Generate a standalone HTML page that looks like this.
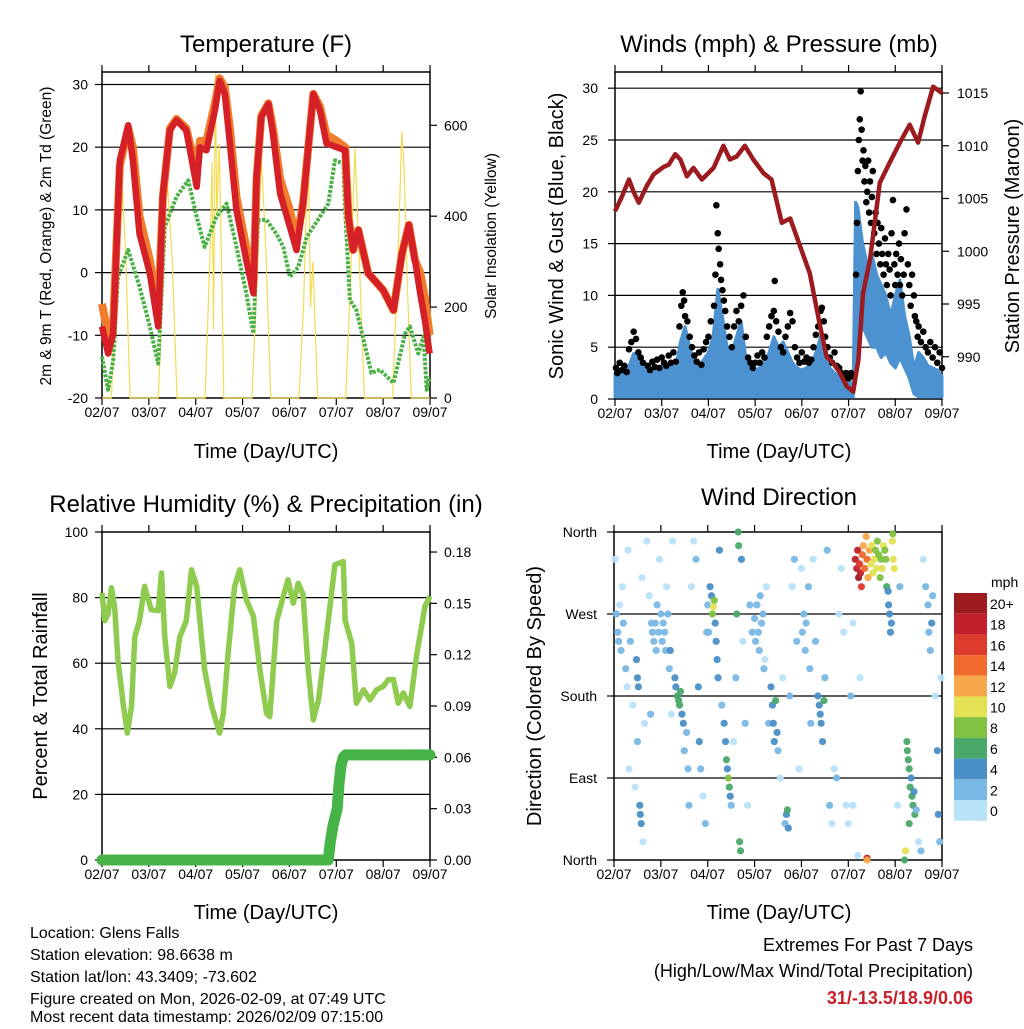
<!DOCTYPE html>
<html><head><meta charset="utf-8">
<style>
html,body{margin:0;padding:0;background:#fff;}
svg text{font-family:"Liberation Sans",sans-serif;fill:#000;}
</style></head>
<body>
<svg id="c" width="1024" height="1024" viewBox="0 0 1024 1024" xmlns="http://www.w3.org/2000/svg">
<rect width="1024" height="1024" fill="#fff"/>
<g id="g"></g>
<text x="266" y="52" font-size="24" text-anchor="middle">Temperature (F)</text>
<text x="779" y="52" font-size="24" text-anchor="middle">Winds (mph) &amp; Pressure (mb)</text>
<text x="266" y="512" font-size="24" text-anchor="middle">Relative Humidity (%) &amp; Precipitation (in)</text>
<text x="779" y="505" font-size="24" text-anchor="middle">Wind Direction</text>
<text x="266" y="458" font-size="20" text-anchor="middle">Time (Day/UTC)</text>
<text x="779" y="458" font-size="20" text-anchor="middle">Time (Day/UTC)</text>
<text x="266" y="919" font-size="20" text-anchor="middle">Time (Day/UTC)</text>
<text x="779" y="919" font-size="20" text-anchor="middle">Time (Day/UTC)</text>
<text transform="translate(51,236) rotate(-90)" font-size="15.5" text-anchor="middle">2m &amp; 9m T (Red, Orange) &amp; 2m Td (Green)</text>
<text transform="translate(496,236) rotate(-90)" font-size="15.5" text-anchor="middle">Solar Insolation (Yellow)</text>
<text transform="translate(563,236) rotate(-90)" font-size="20" text-anchor="middle">Sonic Wind &amp; Gust (Blue, Black)</text>
<text transform="translate(1019,236) rotate(-90)" font-size="20" text-anchor="middle">Station Pressure (Maroon)</text>
<text transform="translate(47,696) rotate(-90)" font-size="20" text-anchor="middle">Percent &amp; Total Rainfall</text>
<text transform="translate(541,696) rotate(-90)" font-size="20" text-anchor="middle">Direction (Colored By Speed)</text>
<g font-size="16">
<text x="30" y="938">Location: Glens Falls</text>
<text x="30" y="960">Station elevation: 98.6638 m</text>
<text x="30" y="982">Station lat/lon: 43.3409; -73.602</text>
<text x="30" y="1004">Figure created on Mon, 2026-02-09, at 07:49 UTC</text>
<text x="30" y="1026" dy="-4">Most recent data timestamp: 2026/02/09 07:15:00</text>
</g>
<g font-size="18" text-anchor="end">
<text x="973" y="951">Extremes For Past 7 Days</text>
<text x="973" y="977">(High/Low/Max Wind/Total Precipitation)</text>
<text x="973" y="1004" font-weight="bold" style="fill:#c8202a">31/-13.5/18.9/0.06</text>
</g>
</svg>
<script>
// ---- data ----
const dayLabels=["02/07","03/07","04/07","05/07","06/07","07/07","08/07","09/07"];
const tempTicks=[30,20,10,0,-10,-20];
const solarTicks=[600,400,200,0];
const windTicks=[30,25,20,15,10,5,0];
const presTicks=[1015,1010,1005,1000,995,990];
const rhTicks=[100,80,60,40,20,0];
const precipTicks=[0.18,0.15,0.12,0.09,0.06,0.03,0.00];
const dirTicks=[0,90,180,270,360];
const dirNames=["North","East","South","West","North"];
const speedLabels=["20+","18","16","14","12","10","8","6","4","2","0"];
const speedColors=["#9b1b1f","#c0202a","#dc3a2a","#ef6a2c","#f7a84a","#e4e254","#80c142","#4aa86a","#4a8fc6","#7ab8e5","#b8e2f8"];

const tRed=[0,0.13,0.24,0.38,0.56,0.66,0.8,1.02,1.2,1.3,1.45,1.59,1.8,2.02,2.09,2.23,2.41,2.51,2.62,2.73,2.87,3.08,3.23,3.3,3.4,3.55,3.65,3.8,4.01,4.15,4.29,4.51,4.65,4.79,5.01,5.19,5.26,5.36,5.47,5.68,6.0,6.22,6.4,6.55,6.68,6.79,6.89,6.99];
const red=[-8.6,-12.9,-9.7,17.9,23.5,17.9,6.2,-0.1,-8.6,12.6,22.7,24.3,22.7,13.7,20,19.5,25.9,30.6,28.5,20.6,9.9,2,-3.3,15.3,24.8,26.9,22.1,12.6,7.3,3.6,11,28.5,25.9,20.6,20,19.5,8.8,3.6,6.8,-0.1,-2.8,-6,3,7.6,2,-3.3,-7.6,-12.9];
const orange=[-5,-10,-8,17,23,20,9,2,-6,12,23,24.5,23,16,21,21,27,31,29.5,23,12,4,-2,15,25,27,23,15,10,5,11,28.5,26.5,22,21,20,8.8,3.6,6.8,-0.1,-2.8,-6,3,7.6,2,0,-4,-10];
const tDew=[0,0.13,0.24,0.34,0.56,0.8,1.02,1.2,1.34,1.59,1.84,2.02,2.19,2.44,2.66,2.87,3.08,3.23,3.33,3.51,3.72,3.87,4.01,4.19,4.37,4.65,4.83,4.97,5.15,5.19,5.29,5.43,5.65,5.75,5.93,6.22,6.47,6.57,6.75,6.86,6.93,6.99];
const dew=[-13.4,-18.7,-14,-0.7,3.6,-2.2,-8.6,-14.5,7.3,12.1,14.7,8.9,4.1,8.9,11,4.1,-3.3,-9.7,8.4,8.4,6.2,4.1,-0.7,0.9,5.7,8.9,11,17.9,17.4,9.9,-4.4,-6,-12.9,-16,-15.5,-17.6,-9.7,-8.6,-12.9,-10.2,-18.7,-16.6];
const tSolar=[0,0.2,0.3,0.4,0.5,0.6,1.2,1.3,1.38,1.5,1.6,2.2,2.3,2.35,2.38,2.42,2.45,2.5,2.55,2.6,3.2,3.3,3.4,3.5,3.6,4.2,4.3,4.4,4.45,4.5,4.6,5.2,5.3,5.4,5.5,5.6,6.2,6.3,6.4,6.45,6.5,6.6,7];
const solar=[0,0,250,530,330,0,0,240,500,300,0,0,300,520,150,714,400,560,300,0,0,250,530,320,0,0,200,570,200,300,0,0,250,549,280,0,0,260,586,500,300,0,0];

const tPres=[0,0.15,0.3,0.4,0.51,0.68,0.83,1.04,1.15,1.29,1.4,1.54,1.68,1.86,2.11,2.32,2.46,2.61,2.78,2.96,3.18,3.35,3.57,3.75,3.96,4.17,4.39,4.53,4.67,4.81,4.96,5.1,5.21,5.31,5.46,5.67,5.88,6.1,6.31,6.49,6.63,6.81,7];
const pres=[1003.8,1005.2,1006.8,1005.6,1004.6,1006.2,1007.3,1008.0,1008.2,1009.2,1008.7,1007.1,1007.9,1006.8,1007.9,1010,1008.7,1009,1010,1008.7,1007.4,1006.8,1002.7,1003.1,1000.5,997.9,992.9,990.0,989.4,988.5,987.2,986.7,989.7,996,999.2,1006.5,1008.4,1010.3,1012,1010.3,1012.8,1015.6,1015];
const tSonic=[0,0.1,0.2,0.3,0.4,0.5,0.6,0.7,0.8,0.9,1.0,1.1,1.2,1.3,1.4,1.5,1.6,1.7,1.8,1.9,2.0,2.1,2.2,2.3,2.4,2.5,2.6,2.7,2.8,2.9,3.0,3.1,3.2,3.3,3.4,3.5,3.6,3.7,3.8,3.9,4.0,4.1,4.2,4.3,4.4,4.5,4.6,4.7,4.8,4.9,5.0,5.1,5.15,5.2,5.3,5.4,5.5,5.6,5.7,5.8,5.9,6.0,6.1,6.2,6.3,6.4,6.5,6.6,6.7,6.8,6.9,7.0];
const sonicHi=[2.5,2.2,2.8,3.2,4.4,4,3,2.8,3,2.6,3.2,3,3.2,3,5.5,7,5,3.5,3.2,3.8,4.5,6,10.6,8,5,4.5,6,7.5,4,3,2.8,3,3.5,4.5,6,5,5.5,4.5,3.5,3,2.8,3,3.2,4.5,6,4,3,2.5,2.2,1.8,1.6,1.5,19,18.5,15,13,14,12,11,10,8,10,11.5,8,6,3,4.5,4,3.2,3,2.8,2.2];
const sonicLo=[0.2,0.2,0.2,0.2,0.2,0.2,0.2,0.2,0.2,0.2,0.2,0.2,0.2,0.2,0.2,0.2,0.2,0.2,0.2,0.2,0.2,0.2,0.2,0.2,0.2,0.2,0.2,0.2,0.2,0.2,0.2,0.2,0.2,0.2,0.2,0.2,0.2,0.2,0.2,0.2,0.2,0.2,0.2,0.2,0.2,0.2,0.2,0.2,0.2,0.2,0.2,0.2,2,8,7,6,5,5,4,4.5,3.5,3,4,3,2,0.5,0.2,0.2,0.2,0.2,0.2,0.2];
const tGust=[0.02,0.05,0.1,0.15,0.2,0.25,0.3,0.35,0.4,0.45,0.5,0.55,0.6,0.7,0.75,0.8,0.85,0.9,0.95,1.0,1.05,1.1,1.15,1.2,1.25,1.3,1.38,1.42,1.45,1.48,1.5,1.55,1.6,1.65,1.7,1.75,1.8,1.85,1.9,1.95,2.0,2.05,2.12,2.15,2.17,2.2,2.22,2.25,2.27,2.3,2.33,2.36,2.4,2.45,2.5,2.55,2.6,2.65,2.7,2.75,2.8,2.85,2.9,2.95,3.0,3.05,3.1,3.15,3.2,3.25,3.3,3.35,3.4,3.42,3.45,3.5,3.55,3.6,3.65,3.7,3.75,3.8,3.85,3.9,3.95,4.0,4.05,4.1,4.15,4.2,4.25,4.3,4.35,4.4,4.43,4.47,4.5,4.55,4.6,4.65,4.7,4.75,4.8,4.85,4.9,4.95,5.0,5.05,5.1,5.16,5.18,5.2,5.22,5.24,5.26,5.28,5.3,5.32,5.34,5.36,5.38,5.4,5.42,5.44,5.46,5.48,5.5,5.52,5.55,5.58,5.6,5.62,5.65,5.68,5.7,5.72,5.75,5.78,5.8,5.82,5.85,5.88,5.9,5.92,5.95,5.98,6.0,6.02,6.05,6.08,6.1,6.12,6.15,6.18,6.2,6.24,6.27,6.3,6.33,6.36,6.4,6.42,6.45,6.48,6.5,6.55,6.6,6.65,6.7,6.75,6.8,6.85,6.9,6.95,7.0];
const gust=[3,2.5,3.5,2.8,3.2,2.6,4.8,5.5,6.5,5.8,4.5,4,3.5,3.2,2.8,3.6,3.1,3.8,3,4,3.5,3.2,4.2,3.5,4.5,3.6,7,9,10.3,9.5,8,7.5,6,5,4.2,3.6,4.5,3.3,4.8,5.5,6,7.5,9,12,18.7,16,14.5,13,11.5,10.5,9.5,8.5,7,6,5,7,8.5,7.5,9,10,6,4,3.5,3,3.5,4.2,3.5,4.5,4,6,7,8,8.5,11.4,7.5,6.5,5,4.5,6,7,8.3,7.5,5,4,3.5,4.5,3.6,4,3.5,3.8,5,6.2,7,8.5,8.8,7.5,6,5,4,3.5,4.5,3.2,3,2.5,2.2,2.5,2,2.5,2.2,12,17,22,25,27,29.7,26,23,24,21,22.5,19,20,23,18,21,17,19.5,22,16,18,14,17,15,13,16.5,14,12,15.5,13,11,14,12.5,10,16,19.2,13,11,14,12,15,11,13.5,10,12,16,18.3,13,11,9,12,10,8,7.5,6,7,5.5,6.5,5,4.5,5.5,4,5,3.5,4.5,3];

const tRH=[0,0.06,0.13,0.2,0.27,0.34,0.45,0.54,0.63,0.7,0.8,0.91,1.05,1.2,1.27,1.34,1.45,1.55,1.66,1.8,1.91,2.02,2.09,2.19,2.34,2.51,2.59,2.69,2.83,2.94,3.08,3.23,3.37,3.51,3.58,3.73,3.87,3.97,4.08,4.19,4.29,4.4,4.51,4.62,4.76,4.9,4.97,5.15,5.19,5.33,5.43,5.58,5.72,5.86,6.0,6.11,6.22,6.32,6.43,6.57,6.72,6.82,6.89,7];
const rh=[81.4,73,75,83,77,61,47.8,38.7,46.8,68,73,83.4,76.3,76,87.5,68,52.9,57,68,73,88.5,83.4,73,58,46.8,38.7,44.8,63,83.4,88.5,79.4,74.3,58,44.8,43.7,73,80.4,85.5,78.3,84.4,81,58,42.7,48.8,65,81.4,90,91,73,66,47.8,51.9,48.8,51.9,52.9,55,55,47.8,50.9,46.8,63,71.2,77.3,80.4];
const tPrecip=[0,4.83,4.87,4.93,5.02,5.06,5.1,5.15,5.2,7];
const precip=[0,0,0.01,0.02,0.03,0.045,0.055,0.06,0.0614,0.0614];

const wdT=[0.02,0.05,0.08,0.1,0.12,0.15,0.18,0.2,0.25,0.28,0.3,0.32,0.35,0.4,0.45,0.48,0.5,0.52,0.5,0.55,0.56,0.58,0.6,0.62,0.65,0.7,0.75,0.78,0.8,0.82,0.85,0.88,0.9,0.92,0.95,0.97,
1.0,1.03,1.05,1.08,1.1,1.12,1.15,1.18,1.2,1.22,1.25,1.3,1.32,1.35,1.38,1.4,1.42,1.45,1.48,1.5,1.55,1.58,1.6,1.65,1.7,1.75,1.8,1.82,1.85,1.9,1.95,1.98,
2.0,2.02,2.05,2.08,2.1,2.12,2.14,2.16,2.18,2.2,2.22,2.25,2.3,2.35,2.38,2.4,2.42,2.44,2.46,2.48,2.5,2.55,2.6,2.62,2.65,2.66,2.68,2.7,2.72,2.75,2.8,2.85,2.9,2.95,
3.0,3.02,3.05,3.08,3.1,3.12,3.15,3.18,3.2,3.22,3.25,3.3,3.35,3.38,3.4,3.42,3.45,3.48,3.5,3.55,3.6,3.65,3.68,3.7,3.72,3.75,3.8,3.85,3.9,3.95,
4.0,4.02,4.05,4.08,4.1,4.15,4.18,4.2,4.25,4.3,4.35,4.38,4.4,4.42,4.45,4.48,4.5,4.55,4.6,4.65,4.7,4.75,4.8,4.85,4.9,4.95,5.0,
5.15,5.18,5.2,5.22,5.24,5.26,5.28,5.3,5.32,5.35,5.38,5.4,5.42,5.45,5.48,5.5,5.52,5.55,5.58,5.6,5.62,5.65,5.68,5.7,5.72,5.75,5.78,5.8,5.82,5.85,5.88,5.9,5.92,5.86,5.94,5.95,5.96,5.98,5.4,5.4,5.2,5.1,5.05,5.1,5.25,
6.05,6.1,6.2,6.22,6.25,6.26,6.28,6.3,6.32,6.34,6.36,6.38,6.4,6.42,6.3,6.45,6.5,6.55,6.6,6.65,6.7,6.72,6.75,6.78,6.8,6.85,6.9,6.92,6.95,6.98];
const wdD=[330,270,250,240,280,230,300,260,210,190,340,100,240,170,80,220,200,190,130,60,50,40,310,20,150,350,290,160,260,250,240,260,230,280,250,330,
270,240,260,250,230,300,270,210,230,160,350,200,190,180,175,170,185,160,150,120,140,100,60,300,350,330,190,130,100,70,40,250,
280,250,300,290,270,278,285,260,240,220,200,340,170,150,130,110,100,90,80,70,60,130,200,270,360,345,20,10,330,240,150,60,280,250,
265,240,280,250,230,290,260,270,210,220,300,150,190,170,150,130,175,140,120,90,200,40,50,55,35,180,300,330,240,100,
320,250,270,230,260,300,210,150,330,240,180,170,160,150,130,175,200,340,60,40,100,90,270,320,250,60,40,
330,320,340,310,325,315,300,335,345,320,355,330,310,340,325,345,315,330,340,320,350,335,310,330,320,345,340,330,300,295,270,250,260,280,350,358,330,320,2,0,5,260,180,60,200,
60,300,0,10,130,120,110,100,80,90,70,60,75,50,40,55,20,10,330,300,280,250,230,260,290,180,120,50,20,200];
const wdS=[1,2,3,2,1,3,1,2,3,1,1,1,3,1,1,4,4,5,2,5,5,4,1,1,1,1,1,2,3,3,3,2,3,3,3,1,
3,3,3,3,2,1,2,3,4,1,1,4,5,6,7,6,7,5,4,3,3,2,3,1,1,2,5,4,3,1,2,3,
3,3,5,5,9,10,8,5,5,4,4,5,3,5,5,6,5,8,7,5,3,1,2,6,7,6,6,6,5,1,2,1,3,3,
3,3,3,3,2,3,3,3,3,1,1,2,4,4,5,5,6,4,2,1,1,3,4,6,5,3,1,2,2,1,
1,2,3,3,2,2,2,3,1,3,4,5,5,4,5,7,3,2,2,1,1,2,1,1,1,1,1,
18,19,18,20,17,19,17,15,13,15,12,14,13,12,11,11,10,11,9,10,9,8,8,9,11,10,8,9,6,5,5,4,4,5,10,9,11,10,18,13,1,1,2,1,1,
1,2,7,10,7,7,6,7,6,5,7,6,5,7,6,2,1,3,1,2,3,2,3,4,3,1,4,4,3,1];

// ---- scales ----
const X1=t=>102+t*46.86, Y1=v=>398-(v+20)*6.27, YS=s=>398-s*0.4545;
const X2=t=>615+t*46.71, YW=w=>399-w*10.36, YP=p=>93+(1015-p)*10.55;
const X3=t=>102+t*46.86, YR=r=>860-r*3.28, YPr=p=>860-p*1711;
const X4=t=>614+t*46.86, YD=d=>860-d*0.9111;

const NS="http://www.w3.org/2000/svg";
const root=document.getElementById('g');
function mk(tag,attrs,parent){const e=document.createElementNS(NS,tag);for(const k in attrs)e.setAttribute(k,attrs[k]);(parent||root).appendChild(e);return e;}
function pts(ts,vs,fx,fy){return ts.map((t,i)=>fx(t).toFixed(1)+","+fy(vs[i]).toFixed(1)).join(" ");}

function frame(x0,x1,y0,y1,xf,name){
  const g=mk('g',{});
  
  
  mk('rect',{x:x0,y:y0,width:x1-x0,height:y1-y0,fill:'none',stroke:'#000','stroke-width':1.5},g);
  dayLabels.forEach((lab,i)=>{
    const x=xf(i);
    mk('line',{x1:x,x2:x,y1:y1,y2:y1+7,stroke:'#000','stroke-width':1.2},g);
    mk('line',{x1:x,x2:x,y1:y0,y2:y0-7,stroke:'#000','stroke-width':1.2},g);
    const t=mk('text',{x:x,y:y1+19,'font-size':14,'text-anchor':'middle'},g);
    
    
    t.textContent=lab;
  });
  return g;
}
function hgrid(vals,fy,x0,x1,g){vals.forEach(v=>mk('line',{x1:x0,x2:x1,y1:fy(v),y2:fy(v),stroke:'#000','stroke-width':1.2},g));}
function yLabels(vals,fy,x,anchor,g,fmt,tickX,tickDir){
  vals.forEach(v=>{
    const y=fy(v);
    mk('line',{x1:tickX,x2:tickX+tickDir*7,y1:y,y2:y,stroke:'#000','stroke-width':1.2},g);
    const t=mk('text',{x:x,y:y+5,'font-size':14,'text-anchor':anchor},g);
    
    
    t.textContent=fmt?fmt(v):v;
  });
}

// ---- Panel 1: temperature ----
const g1=frame(102,430,72,398,X1,'temperature');
hgrid([30,20,10,0,-10],Y1,102,430,g1);
yLabels(tempTicks,Y1,88,'end',g1,null,102,-1);
yLabels(solarTicks,YS,444,'start',g1,null,430,1);
const solarLine=mk('polyline',{points:pts(tSolar,solar,X1,YS),fill:'none',stroke:'#f5dc50','stroke-width':1.2});


const dewLine=mk('polyline',{points:pts(tDew,dew,X1,Y1),fill:'none',stroke:'#48b045','stroke-width':4,'stroke-dasharray':'3 1.5','stroke-linejoin':'round'});


const orLine=mk('polyline',{points:pts(tRed,orange,X1,Y1),fill:'none',stroke:'#f07c2c','stroke-width':8,'stroke-linejoin':'round'});


const redLine=mk('polyline',{points:pts(tRed,red,X1,Y1),fill:'none',stroke:'#d42026','stroke-width':6.5,'stroke-linejoin':'round'});



// ---- Panel 2: winds ----
const g2=frame(615,942,72,399,X2,'winds');
hgrid([30,25,20,15,10,5],YW,615,942,g2);
yLabels(windTicks,YW,598,'end',g2,null,615,-1);
yLabels(presTicks,YP,957,'start',g2,null,942,1);
const areaPts=pts(tSonic,sonicHi,X2,YW)+" "+pts(tSonic.slice().reverse(),sonicLo.slice().reverse(),X2,YW);
const sonic=mk('polygon',{points:areaPts,fill:'#4d92d0',stroke:'#4d92d0','stroke-width':3,'stroke-linejoin':'round'});


const gg=mk('g',{});


tGust.forEach((t,i)=>{
  const c=mk('circle',{cx:X2(t),cy:YW(gust[i]),r:3.3,fill:'#000'},gg);
  
  
});
const presLine=mk('polyline',{points:pts(tPres,pres,X2,YP),fill:'none',stroke:'#9b1b1f','stroke-width':4.5,'stroke-linejoin':'round'});



// ---- Panel 3: humidity ----
const g3=frame(102,430,532,860,X3,'humidity');
hgrid([80,60,40,20],YR,102,430,g3);
yLabels(rhTicks,YR,88,'end',g3,null,102,-1);
yLabels(precipTicks,YPr,444,'start',g3,v=>v.toFixed(2),430,1);
const rhLine=mk('polyline',{points:pts(tRH,rh,X3,YR),fill:'none',stroke:'#8fcb4f','stroke-width':5.5,'stroke-linejoin':'round'});


const prLine=mk('polyline',{points:pts(tPrecip,precip,X3,YPr),fill:'none',stroke:'#46b446','stroke-width':11,'stroke-linejoin':'round','stroke-linecap':'round'});



// ---- Panel 4: wind direction ----
const g4=frame(614,942,532,860,X4,'wind-direction');
hgrid([90,180,270],YD,614,942,g4);
dirTicks.forEach((d,i)=>{
  const y=YD(d);
  mk('line',{x1:614,x2:607,y1:y,y2:y,stroke:'#000','stroke-width':1.2},g4);
  const t=mk('text',{x:597,y:y+5,'font-size':14,'text-anchor':'end'},g4);
  
  
  t.textContent=dirNames[i];
});
function spdColor(s){const idx=Math.min(10,Math.floor(s/2));return speedColors[10-idx];}
const wg=mk('g',{});


wdT.forEach((t,i)=>{
  const c=mk('circle',{cx:X4(t),cy:YD(wdD[i]),r:3.6,fill:spdColor(wdS[i]),'fill-opacity':0.95},wg);
  
  
});
// colorbar
const cb=mk('g',{});


const cbt=mk('text',{x:991,y:587,'font-size':14},cb);


cbt.textContent='mph';
speedLabels.forEach((lab,i)=>{
  const y=593+i*20.7;
  const r=mk('rect',{x:954,y:y,width:33,height:20.7,fill:speedColors[i]},cb);
  
  
  const t=mk('text',{x:990,y:y+16,'font-size':14},cb);
  
  
  t.textContent=lab;
});
</script>
</body></html>
